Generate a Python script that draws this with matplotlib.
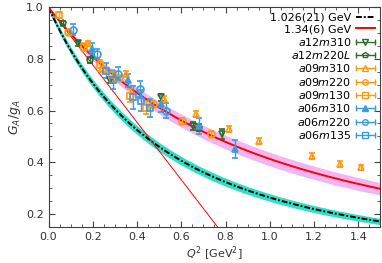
import matplotlib

matplotlib.use("Agg")

import matplotlib.pyplot as plt  # noqa: E402
import numpy as np  # noqa: E402
from matplotlib.container import ErrorbarContainer  # noqa: E402
from matplotlib.legend_handler import HandlerBase  # noqa: E402
from matplotlib.lines import Line2D  # noqa: E402
from matplotlib.ticker import MultipleLocator  # noqa: E402

# dipole fits: axial mass and its error (GeV)
fit_masses = [1.026, 1.34]
fit_errors = [0.021, 0.06]
fit_labels = ["1.026(21) GeV", "1.34(6) GeV"]

# lattice ensembles: Q^2 [GeV^2], G_A/g_A and errors
ensembles = ["a12m310", "a12m220L", "a09m310", "a09m220", "a09m130",
             "a06m310", "a06m220", "a06m135"]
q2_data = {
    "a12m310": [0.135, 0.277, 0.51, 0.652, 0.786],
    "a12m220L": [0.067, 0.187, 0.68],
    "a09m310": [0.18, 0.352, 0.524, 0.667, 0.817, 0.951, 1.19, 1.318, 1.413],
    "a09m220": [0.09, 0.245, 0.32, 0.472, 0.604, 0.734],
    "a09m130": [0.049, 0.16, 0.232, 0.285, 0.367, 0.442],
    "a06m310": [0.195, 0.36, 0.51, 0.682, 0.844],
    "a06m220": [0.11, 0.217, 0.315, 0.412, 0.532],
    "a06m135": [0.262, 0.292, 0.382, 0.42, 0.457],
}
ga_data = {
    "a12m310": [0.86, 0.717, 0.651, 0.541, 0.509],
    "a12m220L": [0.938, 0.795, 0.534],
    "a09m310": [0.86, 0.743, 0.645, 0.587, 0.530, 0.483, 0.424, 0.392, 0.381],
    "a09m220": [0.905, 0.76, 0.725, 0.626, 0.56, 0.509],
    "a09m130": [0.970, 0.845, 0.775, 0.736, 0.658, 0.611],
    "a06m310": [0.84, 0.717, 0.626, 0.541, 0.45],
    "a06m220": [0.914, 0.82, 0.743, 0.684, 0.60],
    "a06m135": [0.755, 0.717, 0.652, 0.639, 0.611],
}
ga_err = {
    "a12m310": [0.01, 0.012, 0.015, 0.015, 0.02],
    "a12m220L": [0.008, 0.012, 0.015],
    "a09m310": [0.008, 0.01, 0.012, 0.012, 0.012, 0.012, 0.012, 0.012, 0.01],
    "a09m220": [0.008, 0.01, 0.012, 0.012, 0.012, 0.012],
    "a09m130": [0.012, 0.015, 0.02, 0.02, 0.025, 0.025],
    "a06m310": [0.02, 0.025, 0.03, 0.03, 0.035],
    "a06m220": [0.02, 0.02, 0.025, 0.03, 0.03],
    "a06m135": [0.03, 0.035, 0.045, 0.04, 0.035],
}

green = "#2f6b2f"
orange = "#ff9a10"
blue = "#3b9be0"
styles = {
    "a12m310": dict(color=green, marker="v", mfc="none"),
    "a12m220L": dict(color=green, marker="p", mfc="none"),
    "a09m310": dict(color=orange, marker="^", mfc="none"),
    "a09m220": dict(color=orange, marker="o", mfc="none"),
    "a09m130": dict(color=orange, marker="s", mfc="none"),
    "a06m310": dict(color=blue, marker="^", mfc=blue),
    "a06m220": dict(color=blue, marker="o", mfc="none"),
    "a06m135": dict(color=blue, marker="s", mfc="none"),
}


def dipole(q2, m):
    return 1.0 / (1.0 + q2 / m**2) ** 2


class HorizontalBarHandler(HandlerBase):
    """Legend key drawn as a horizontal error bar with caps and the marker."""

    def create_artists(self, legend, orig_handle, xdescent, ydescent, width,
                       height, fontsize, trans):
        src = orig_handle.lines[0]
        c = src.get_markeredgecolor()
        y = height / 2 - ydescent
        x0, x1 = -xdescent, -xdescent + width
        bar = Line2D([x0, x1], [y, y], color=c, lw=1.0)
        caps = Line2D([x0, x1], [y, y], ls="", marker="|", ms=5, mew=1.0, color=c)
        mk = Line2D([(x0 + x1) / 2], [y], ls="", marker=src.get_marker(), ms=4,
                    mew=1.0, mec=c, mfc=src.get_markerfacecolor())
        for a in (bar, caps, mk):
            a.set_transform(trans)
        return [bar, caps, mk]


plt.rcParams["font.family"] = ["DejaVu Sans"]
plt.rcParams["mathtext.fontset"] = "dejavusans"

fig = plt.figure(figsize=(3.82, 2.63), dpi=100)
ax = fig.add_axes([0.127, 0.138, 0.869, 0.834])

q2 = np.linspace(0, 1.5, 300)
band_colors = ["#30e0c6", "#f4b4f2"]
line_styles = [dict(color="black", linestyle=(0, (3, 1, 1, 1)), lw=1.4),
               dict(color="red", linestyle="-", lw=1.4)]
for m, dm, lab, bc, ls in zip(fit_masses, fit_errors, fit_labels, band_colors, line_styles):
    ax.fill_between(q2, dipole(q2, m - dm), dipole(q2, m + dm), color=bc,
                    lw=1.5 if bc == band_colors[0] else 0, zorder=1)
    ax.plot(q2, dipole(q2, m), label=lab, zorder=2, **ls)

# slope at Q^2 = 0 of the 1.34 GeV dipole
ax.plot(q2, 1 - 2 * q2 / fit_masses[1] ** 2, color="red", lw=0.7, zorder=2)

for name in ensembles:
    st = styles[name]
    ax.errorbar(q2_data[name], ga_data[name], yerr=ga_err[name], fmt=st["marker"],
                color=st["color"], mfc=st["mfc"], mec=st["color"], ms=5, mew=1.2,
                elinewidth=1.0, capsize=2, capthick=1.0, zorder=3,
                label=r"$%s$" % name)

ax.set_xlim(0, 1.5)
ax.set_ylim(0.15, 1.0)
ax.xaxis.set_major_locator(MultipleLocator(0.2))
ax.xaxis.set_minor_locator(MultipleLocator(0.05))
ax.yaxis.set_major_locator(MultipleLocator(0.2))
ax.yaxis.set_minor_locator(MultipleLocator(0.05))
ax.tick_params(which="both", direction="in", top=True, right=True, colors="#404040",
               labelcolor="#333333", labelsize=8)
ax.tick_params(which="major", length=4)
ax.tick_params(which="minor", length=2)
for sp in ax.spines.values():
    sp.set_color("#404040")

ax.set_xlabel(r"$Q^2$ [GeV$^2$]", fontsize=8, color="#333333", labelpad=2)
ax.set_ylabel(r"$G_A/g_A$", fontsize=9, color="#333333", labelpad=2)

ax.legend(loc="upper right", frameon=False, markerfirst=False, fontsize=8,
          handlelength=1.7, labelspacing=0.12, borderaxespad=0.3, handletextpad=0.4,
          borderpad=0.2, handler_map={ErrorbarContainer: HorizontalBarHandler()})

fig.savefig("out.png", dpi=100)
